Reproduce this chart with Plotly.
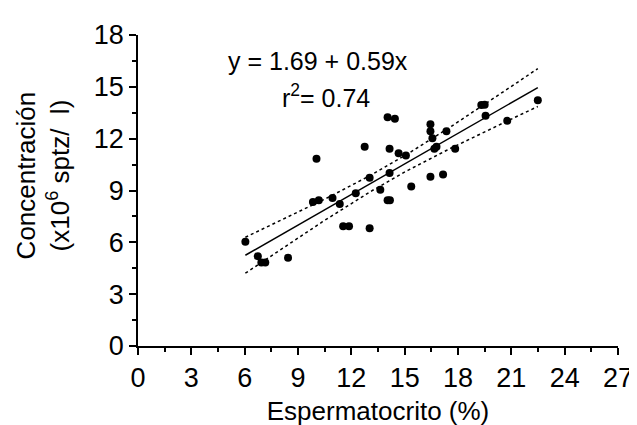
import numpy as np
import plotly.graph_objects as go

# Data
esperm = [6.04, 6.74, 6.94, 7.16, 8.44, 9.84, 10.17, 10.04, 10.94, 11.35,
          11.54, 11.87, 12.25, 12.75, 13.03, 13.03, 13.63, 14.04, 14.17, 14.15,
          14.15, 14.04, 14.45, 14.66, 15.07, 15.37, 16.45, 16.45, 16.45, 16.56,
          16.67, 16.79, 17.16, 17.35, 17.84, 19.55, 20.77, 19.31, 19.50, 22.49]
conc = [6.04, 5.20, 4.83, 4.83, 5.11, 8.33, 8.43, 10.84, 8.56, 8.22,
        6.93, 6.93, 8.84, 11.53, 9.74, 6.81, 9.04, 8.43, 8.43, 10.02,
        11.42, 13.24, 13.15, 11.16, 11.03, 9.23, 9.79, 12.84, 12.43, 12.02,
        11.42, 11.53, 9.92, 12.43, 11.42, 13.33, 13.03, 13.95, 13.97, 14.23]

INTERCEPT = 1.69
SLOPE = 0.59
eq_text = "y = 1.69 + 0.59x"
r2_text = "r<sup>2</sup>= 0.74"
x_ticks = [0, 3, 6, 9, 12, 15, 18, 21, 24, 27]
y_ticks = [0, 3, 6, 9, 12, 15, 18]

x = np.array(esperm)
y = np.array(conc)
n = len(x)
xs = np.linspace(x.min(), x.max(), 100)
yfit = INTERCEPT + SLOPE * xs
resid = y - (INTERCEPT + SLOPE * x)
s = np.sqrt(np.sum(resid ** 2) / (n - 2))
sxx = np.sum((x - x.mean()) ** 2)
tval = 2.024
half = tval * s * np.sqrt(1.0 / n + (xs - x.mean()) ** 2 / sxx)

fig = go.Figure()
fig.add_trace(go.Scatter(x=xs, y=yfit + half, mode="lines",
                         line=dict(color="black", width=1.5, dash="3px,3px")))
fig.add_trace(go.Scatter(x=xs, y=yfit - half, mode="lines",
                         line=dict(color="black", width=1.5, dash="3px,3px")))
fig.add_trace(go.Scatter(x=xs, y=yfit, mode="lines",
                         line=dict(color="black", width=1.5)))
fig.add_trace(go.Scatter(x=esperm, y=conc, mode="markers",
                         marker=dict(color="black", size=8)))

font = "Liberation Sans, Arial, sans-serif"
axis_common = dict(showgrid=False, zeroline=False, showline=True,
                   linecolor="black", linewidth=1.5, ticks="outside",
                   ticklen=7, tickwidth=1.5, tickcolor="black",
                   tickfont=dict(family=font, size=27, color="black"))
fig.update_xaxes(range=[0, 27], tickvals=x_ticks, **axis_common,
                 minor=dict(dtick=1.5, ticks="outside", ticklen=4,
                            tickwidth=1.5, tickcolor="black"),
                 title=dict(text="Espermatocrito (%)", standoff=10,
                            font=dict(family=font, size=26, color="black")))
fig.update_yaxes(range=[0, 18], tickvals=y_ticks, **axis_common,
                 minor=dict(dtick=1.5, ticks="outside", ticklen=4,
                            tickwidth=1.5, tickcolor="black"))

fig.add_annotation(text="Concentración<br>(x10<sup>6</sup> sptz/  l)",
                   xref="paper", yref="paper", x=-0.197, y=0.55,
                   xanchor="center", yanchor="middle", textangle=-90,
                   showarrow=False,
                   font=dict(family=font, size=26, color="black"))
fig.add_annotation(text=eq_text, x=10.1, y=16.5, showarrow=False,
                   font=dict(family=font, size=25, color="black"))
fig.add_annotation(text=r2_text, x=10.57, y=14.45, showarrow=False,
                   font=dict(family=font, size=25, color="black"))

fig.update_layout(width=637, height=425, showlegend=False,
                  plot_bgcolor="white", paper_bgcolor="white",
                  margin=dict(l=130, r=24, t=23, b=82))
fig.write_html("out.html")
